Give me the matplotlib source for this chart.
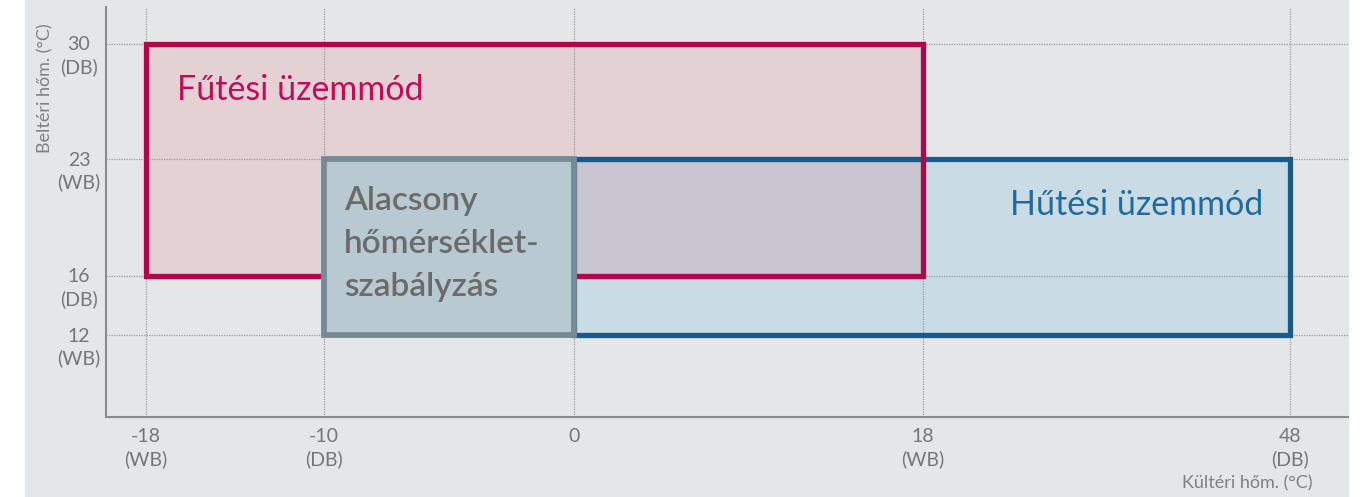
import numpy as np
import matplotlib
matplotlib.use("Agg")
import matplotlib.pyplot as plt
from matplotlib.patches import Rectangle
from matplotlib.scale import FuncScale

plt.rcParams['font.family'] = ['Lato', 'DejaVu Sans']

# axis ticks and their (WB)/(DB) tags
x_ticks = [-18, -10, 0, 18, 48]
x_tags = ["(WB)", "(DB)", "", "(WB)", "(DB)"]
y_ticks = [12, 16, 23, 30]
y_tags = ["(WB)", "(DB)", "(WB)", "(DB)"]

# operating ranges: (x0, x1, y0, y1)
heating = (-18, 18, 16, 30)
cooling = (0, 48, 12, 23)
low_temp = (-10, 0, 12, 23)

heating_label = "Fűtési üzemmód"
cooling_label = "Hűtési üzemmód"
low_temp_label = "Alacsony\nhőmérséklet-\nszabályzás"

# the axes are not linear: each tick sits at its own position (pixels)
x_tick_px = [146, 324, 574, 923, 1290]
y_tick_px = [335, 276, 159, 44]

BG = "#e5e6e8"
GRAY_TXT = "#767676"

W, H = 1366, 497
AX_L, AX_R, AX_T, AX_B = 106, 1348, 7, 417


def piecewise_scale(vals, pos):
    vals = np.asarray(vals, float)
    pos = np.asarray(pos, float)
    s0 = (pos[1] - pos[0]) / (vals[1] - vals[0])
    s1 = (pos[-1] - pos[-2]) / (vals[-1] - vals[-2])
    v = np.concatenate([[vals[0] - 1000], vals, [vals[-1] + 1000]])
    p = np.concatenate([[pos[0] - 1000 * s0], pos, [pos[-1] + 1000 * s1]])
    fwd = lambda a: np.interp(a, v, p)
    inv = lambda a: np.interp(a, p, v)
    return fwd, inv


fig = plt.figure(figsize=(W / 100, H / 100), dpi=100)
fig.patches.append(Rectangle((25 / W, 0), (AX_R - 25) / W, 1, transform=fig.transFigure,
                             color=BG, zorder=-10))
ax = fig.add_axes([AX_L / W, 1 - AX_B / H, (AX_R - AX_L) / W, (AX_B - AX_T) / H])
ax.set_facecolor(BG)

xf, xi = piecewise_scale(x_ticks, x_tick_px)
yf, yi = piecewise_scale(y_ticks, [-p for p in y_tick_px])
ax.set_xscale(FuncScale(ax, (xf, xi)))
ax.set_yscale(FuncScale(ax, (yf, yi)))
ax.set_xlim(xi(AX_L), xi(AX_R))
ax.set_ylim(yi(-AX_B), yi(-AX_T))

for s in ["top", "right"]:
    ax.spines[s].set_visible(False)
for s in ["left", "bottom"]:
    ax.spines[s].set_color("#8c8c8c")
    ax.spines[s].set_linewidth(1.5)
ax.set_xticks(x_ticks)
ax.set_yticks(y_ticks)
ax.set_xticklabels([])
ax.set_yticklabels([])
ax.tick_params(length=0)
ax.grid(True, linestyle=(0, (1, 1)), color="#9a9a9a", linewidth=0.9)
for gl in ax.get_xgridlines() + ax.get_ygridlines():
    gl.set_zorder(2)


def box(r, **kw):
    x0, x1, y0, y1 = r
    return ax.add_patch(Rectangle((x0, y0), x1 - x0, y1 - y0, joinstyle="miter", **kw))


LW = 3.8
box(heating, facecolor="#e4d1d4", edgecolor="none", zorder=1)
box(cooling, facecolor="#c9dce6", edgecolor="none", zorder=1)
ov = (max(heating[0], cooling[0]), min(heating[1], cooling[1]),
      max(heating[2], cooling[2]), min(heating[3], cooling[3]))
box(ov, facecolor="#c8c4d0", edgecolor="none", zorder=1.5)
box(cooling, facecolor="none", edgecolor="#1b5a86", linewidth=LW, zorder=3)
box(heating, facecolor="none", edgecolor="#b0064a", linewidth=LW, zorder=3.5)
box(low_temp, facecolor="#b8c9d1", edgecolor="#778b96", linewidth=LW + 0.4, zorder=4)

# region labels
ax.annotate(heating_label, xy=(heating[0], heating[3]), xytext=(31, -56),
            textcoords="offset pixels", ha="left", va="baseline",
            fontsize=24.5, color="#c6085a", zorder=6)
ax.annotate(cooling_label, xy=(cooling[1], cooling[3]), xytext=(-27, -56),
            textcoords="offset pixels", ha="right", va="baseline",
            fontsize=24.5, color="#1f6b9c", zorder=6)
ax.annotate(low_temp_label, xy=(low_temp[0], low_temp[3]), xytext=(20, -27),
            textcoords="offset pixels", ha="left", va="top", linespacing=1.55,
            fontsize=24, fontweight="semibold", color="#6b6b6b", zorder=6)

# tick labels
for v, tag in zip(y_ticks, y_tags):
    ax.annotate(str(v), xy=(0, v), xycoords=("axes fraction", "data"), xytext=(-27, -1),
                textcoords="offset pixels", ha="center", va="center",
                fontsize=14, color=GRAY_TXT)
    ax.annotate(tag, xy=(0, v), xycoords=("axes fraction", "data"), xytext=(-27, -23),
                textcoords="offset pixels", ha="center", va="center",
                fontsize=14, color=GRAY_TXT)
for v, tag in zip(x_ticks, x_tags):
    ax.annotate(str(v), xy=(v, 0), xycoords=("data", "axes fraction"), xytext=(0, -20),
                textcoords="offset pixels", ha="center", va="center",
                fontsize=14, color=GRAY_TXT)
    if tag:
        ax.annotate(tag, xy=(v, 0), xycoords=("data", "axes fraction"), xytext=(0, -42),
                    textcoords="offset pixels", ha="center", va="center",
                    fontsize=14, color=GRAY_TXT)

fig.text(1313 / W, 1 - 483 / H, "Kültéri hőm. (°C)", ha="right", va="center",
         fontsize=13, color="#808080")
fig.text(45 / W, 1 - 88 / H, "Beltéri hőm. (°C)", ha="center", va="center",
         rotation=90, fontsize=13, color="#808080")

fig.savefig("out.png", dpi=100, facecolor="white")
